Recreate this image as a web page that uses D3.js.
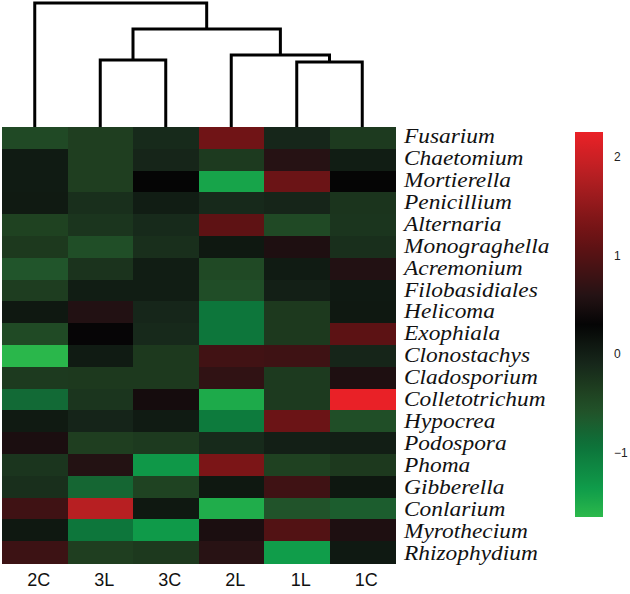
<!DOCTYPE html>
<html>
<head>
<meta charset="utf-8">
<script src="https://cdn.jsdelivr.net/npm/d3@7"></script>
<style>
  html, body { margin: 0; padding: 0; background: #fff; }
  svg { display: block; }
</style>
</head>
<body>
<svg id="chart" width="630" height="594"></svg>
<script>
// ---------------- data ----------------
const samples = ["2C", "3L", "3C", "2L", "1L", "1C"];
const genera = ["Fusarium", "Chaetomium", "Mortierella", "Penicillium", "Alternaria",
  "Monograghella", "Acremonium", "Filobasidiales", "Helicoma", "Exophiala",
  "Clonostachys", "Cladosporium", "Colletotrichum", "Hypocrea", "Podospora",
  "Phoma", "Gibberella", "Conlarium", "Myrothecium", "Rhizophydium"];

// z-scores per genus, columns in the order of `samples`
const Fusarium       = [-0.47, -0.35, -0.13,  1.23, -0.09, -0.31];
const Chaetomium     = [ 0.04, -0.35, -0.08, -0.31,  0.61,  0.02];
const Mortierella    = [ 0.04, -0.35,  0.30, -1.44,  1.19,  0.30];
const Penicillium    = [ 0.05, -0.19,  0.02, -0.12, -0.08, -0.24];
const Alternaria     = [-0.39, -0.25, -0.13,  1.08, -0.47, -0.25];
const Monograghella  = [-0.29, -0.53, -0.19,  0.08,  0.53, -0.19];
const Acremonium     = [-0.61, -0.23,  0.02, -0.47,  0.04,  0.57];
const Filobasidiales = [-0.34,  0.02,  0.02, -0.52, -0.01,  0.06];
const Helicoma       = [ 0.08,  0.57, -0.09, -0.96, -0.29,  0.07];
const Exophiala      = [-0.48,  0.31, -0.12, -0.96, -0.29,  1.06];
const Clonostachys   = [-1.63,  0.04, -0.29,  0.83,  0.81, -0.08];
const Cladosporium   = [-0.31, -0.29, -0.29,  0.69, -0.31,  0.53];
const Colletotrichum = [-0.84, -0.25,  0.45, -1.50, -0.31,  2.24];
const Hypocrea       = [ 0.05, -0.07,  0.04, -1.01,  1.19, -0.53];
const Podospora      = [ 0.51, -0.35, -0.31, -0.13, -0.01,  0.01];
const Phoma          = [-0.25,  0.58, -1.32,  1.33, -0.38, -0.29];
const Gibberella     = [-0.19, -0.79, -0.41,  0.07,  0.82,  0.09];
const Conlarium      = [ 0.82,  1.82,  0.07, -1.53, -0.59, -0.69];
const Myrothecium    = [ 0.07, -0.96, -1.34,  0.51,  0.98,  0.53];
const Rhizophydium   = [ 0.79, -0.35, -0.29,  0.62, -1.37,  0.06];

const valueRows = [Fusarium, Chaetomium, Mortierella, Penicillium, Alternaria,
  Monograghella, Acremonium, Filobasidiales, Helicoma, Exophiala,
  Clonostachys, Cladosporium, Colletotrichum, Hypocrea, Podospora,
  Phoma, Gibberella, Conlarium, Myrothecium, Rhizophydium];

// column dendrogram (merge heights in distance units)
const dendroTree = {
  height: 12.4, children: [
    { name: "2C" },
    { height: 9.8, children: [
      { height: 6.7, children: [{ name: "3L" }, { name: "3C" }] },
      { height: 7.2, children: [
        { name: "2L" },
        { height: 6.5, children: [{ name: "1L" }, { name: "1C" }] }
      ] }
    ] }
  ]
};

// colour map (green - black - red)
const colorStops  = [-1.65, -1.36, -0.91, -0.62, -0.36, -0.09, 0.30, 0.59, 1.06, 1.32, 1.80, 2.25];
const colorValues = ["#2cb94b", "#0f9c4a", "#0d7139", "#21562b", "#1f3f20", "#16261a",
                     "#050505", "#241214", "#5c1214", "#7a1517", "#b51f22", "#ea2127"];
const colorbarTicks = [-1, 0, 1, 2];

// ---------------- drawing ----------------
const svg = d3.select("#chart");

const x = d3.scaleBand().domain(samples).range([2, 395]).padding(0);
const y = d3.scaleBand().domain(genera).range([127, 563]).padding(0);
const color = d3.scaleLinear().domain(colorStops).range(colorValues).clamp(true);

const cells = [];
genera.forEach((g, i) => samples.forEach((s, j) => cells.push({ g, s, v: valueRows[i][j] })));

svg.append("g").selectAll("rect").data(cells).join("rect")
  .attr("x", d => x(d.s))
  .attr("y", d => y(d.g))
  .attr("width", x.bandwidth() + 0.5)
  .attr("height", y.bandwidth() + 0.5)
  .attr("fill", d => color(d.v))
  .attr("shape-rendering", "crispEdges");

// dendrogram
const dy = d3.scaleLinear().domain([0, 12.4]).range([127, 3]);
const root = d3.hierarchy(dendroTree);
root.eachAfter(n => {
  if (!n.children) { n.px = x(n.data.name) + x.bandwidth() / 2; n.py = dy(0); }
  else {
    n.px = (n.children[0].px + n.children[n.children.length - 1].px) / 2;
    n.py = dy(n.data.height);
  }
});
const dendroG = svg.append("g")
  .attr("fill", "none").attr("stroke", "#000").attr("stroke-width", 3)
  .attr("stroke-linejoin", "miter");
root.each(n => {
  if (!n.children) return;
  const a = n.children[0], b = n.children[n.children.length - 1];
  dendroG.append("path")
    .attr("d", `M${a.px},${a.py}V${n.py}H${b.px}V${b.py}`);
});

// row labels (wide italic serif)
const labG = svg.append("g").attr("transform", "translate(404,0) scale(1.17,1)");
labG.selectAll("text").data(genera).join("text")
  .attr("x", 0)
  .attr("y", (d, i) => y(d) + y.bandwidth() / 2 + 5 + i * 0.15)
  .attr("font-family", "'Liberation Serif', 'Times New Roman', serif")
  .attr("font-style", "italic")
  .attr("font-size", 20)
  .attr("fill", "#111")
  .text(d => d);

// column labels
svg.append("g").selectAll("text").data(samples).join("text")
  .attr("x", d => x(d) + x.bandwidth() / 2 + 4)
  .attr("y", 586)
  .attr("text-anchor", "middle")
  .attr("font-family", "'Liberation Sans', Arial, sans-serif")
  .attr("font-size", 18)
  .attr("fill", "#111")
  .text(d => d);

// colorbar
const cbTop = 132, cbBottom = 517, cbX = 575, cbW = 28;
const cbScale = d3.scaleLinear().domain([colorStops[0], colorStops[colorStops.length - 1]]).range([cbBottom, cbTop]);
const defs = svg.append("defs");
const grad = defs.append("linearGradient").attr("id", "cbgrad")
  .attr("x1", 0).attr("y1", 1).attr("x2", 0).attr("y2", 0);
d3.range(0, 1.0001, 0.025).forEach(t => {
  const v = cbScale.domain()[0] + t * (cbScale.domain()[1] - cbScale.domain()[0]);
  grad.append("stop").attr("offset", t).attr("stop-color", color(v));
});
svg.append("rect")
  .attr("x", cbX).attr("y", cbTop).attr("width", cbW).attr("height", cbBottom - cbTop)
  .attr("fill", "url(#cbgrad)");

svg.append("g").selectAll("text").data(colorbarTicks).join("text")
  .attr("x", 614)
  .attr("y", d => cbScale(d))
  .attr("dy", "0.35em")
  .attr("font-family", "'Liberation Sans', Arial, sans-serif")
  .attr("font-size", 12)
  .attr("fill", "#222")
  .text(d => d < 0 ? "\u2212" + Math.abs(d) : String(d));
</script>
</body>
</html>
